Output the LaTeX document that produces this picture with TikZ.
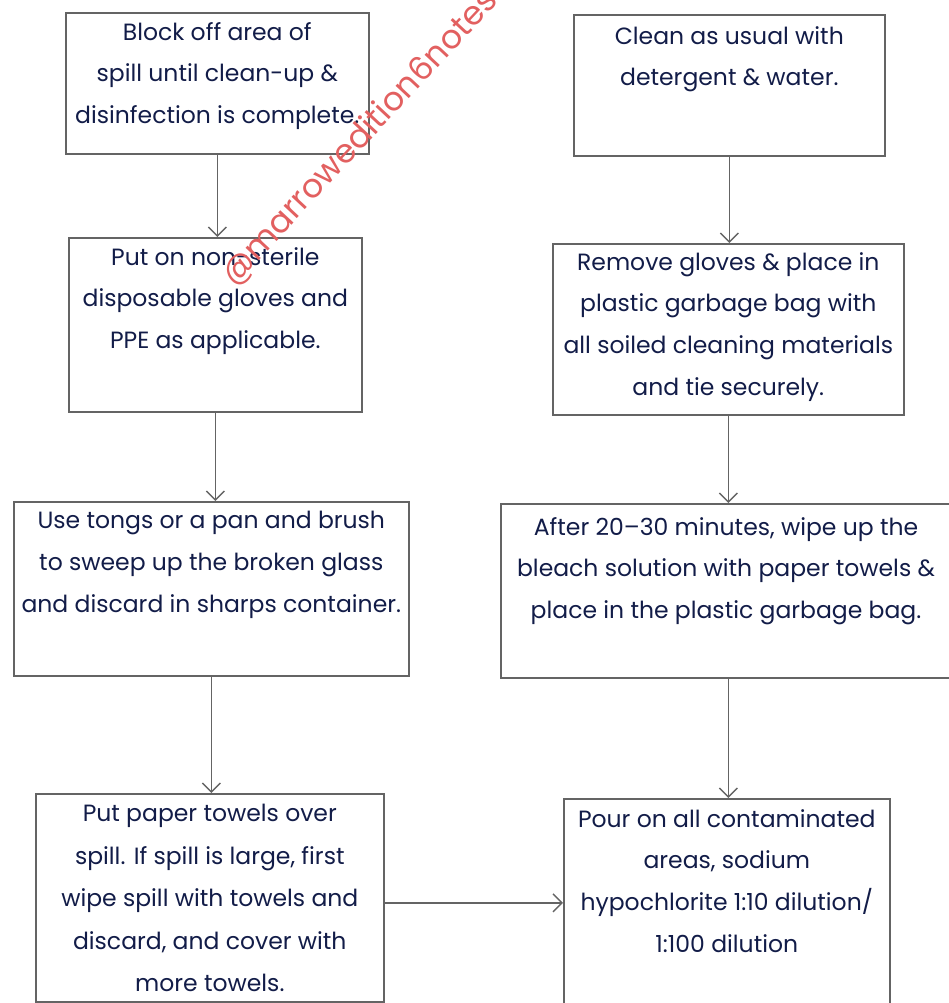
\documentclass[tikz,border=0pt]{standalone}
\usepackage{fontspec}
\setmainfont{Poppins}
\usetikzlibrary{arrows.meta}
\definecolor{ink}{RGB}{18,28,72}
\definecolor{frame}{RGB}{100,100,100}
\definecolor{stamp}{RGB}{226,96,96}

\begin{document}
\begin{tikzpicture}[x=1pt,y=-1pt,
    stepbox/.style={draw=frame, line width=1.6pt, anchor=north west, inner sep=0pt},
    steptext/.style={anchor=north, text=ink, align=center, inner sep=0pt,
      font=\fontsize{23.5}{41.8}\selectfont},
    flow/.style={draw=frame, line width=1.4pt, -{Straight Barb[length=9pt,width=18pt]}}]
    \useasboundingbox (0,0) rectangle (949,1003);

    % left column
    \node[stepbox, minimum width=303pt, minimum height=141pt] (b1) at (65,12) {};
    \node[stepbox, minimum width=293pt, minimum height=174pt] (b2) at (68,237) {};
    \node[stepbox, minimum width=395pt, minimum height=174pt] (b3) at (13,501) {};
    \node[stepbox, minimum width=348pt, minimum height=208pt] (b4) at (35,793) {};

    % right column
    \node[stepbox, minimum width=311pt, minimum height=141pt] (r1) at (573,14) {};
    \node[stepbox, minimum width=351pt, minimum height=171pt] (r2) at (552,243) {};
    \node[stepbox, minimum width=455pt, minimum height=174pt] (r3) at (500,503) {};
    \node[stepbox, minimum width=326pt, minimum height=225pt] (r4) at (563,798) {};

    \node[steptext] (b1t) at ([yshift=-10pt]b1.north) {Block off area of\\spill until clean-up \&\\disinfection is complete.};
    \node[steptext] (b2t) at ([yshift=-10pt]b2.north) {Put on non-sterile\\disposable gloves and\\PPE as applicable.};
    \node[steptext] (b3t) at ([yshift=-10pt]b3.north) {Use tongs or a pan and brush\\to sweep up the broken glass\\and discard in sharps container.};
    \node[steptext, font=\fontsize{23.5}{42.5}\selectfont] (b4t) at ([yshift=-11pt]b4.north) {Put paper towels over\\spill. If spill is large, first\\wipe spill with towels and\\discard, and cover with\\more towels.};
    \node[steptext] (r1t) at ([yshift=-12pt]r1.north) {Clean as usual with\\detergent \& water.};
    \node[steptext] (r2t) at ([yshift=-9pt]r2.north) {Remove gloves \& place in\\plastic garbage bag with\\all soiled cleaning materials\\and tie securely.};
    \node[steptext] (r3t) at ([yshift=-14pt]r3.north -| 726,0) {After 20--30 minutes, wipe up the\\bleach solution with paper towels \&\\place in the plastic garbage bag.};
    \node[steptext] (r4t) at ([yshift=-11pt]r4.north) {Pour on all contaminated\\areas, sodium\\hypochlorite 1:10 dilution/\\1:100 dilution};

    \draw[flow] (b1.south) -- (b1.south |- b2.north);
    \draw[flow] (b2.south) -- (b2.south |- b3.north);
    \draw[flow] (b3.south) -- (b3.south |- b4.north);
    \draw[flow] (r1.south) -- (r1.south |- r2.north);
    \draw[flow] (r2.south) -- (r2.south |- r3.north);
    \draw[flow] (r3.south) -- (r3.south |- r4.north);
    \draw[flow] ([yshift=-5pt]b4.east) -- ([yshift=-5pt]b4.east -| r4.west);

    \node[rotate=47, text=stamp, font=\fontsize{33}{35}\selectfont] (mark) at (360,138) {@marrowedition6notes};
\end{tikzpicture}
\end{document}
